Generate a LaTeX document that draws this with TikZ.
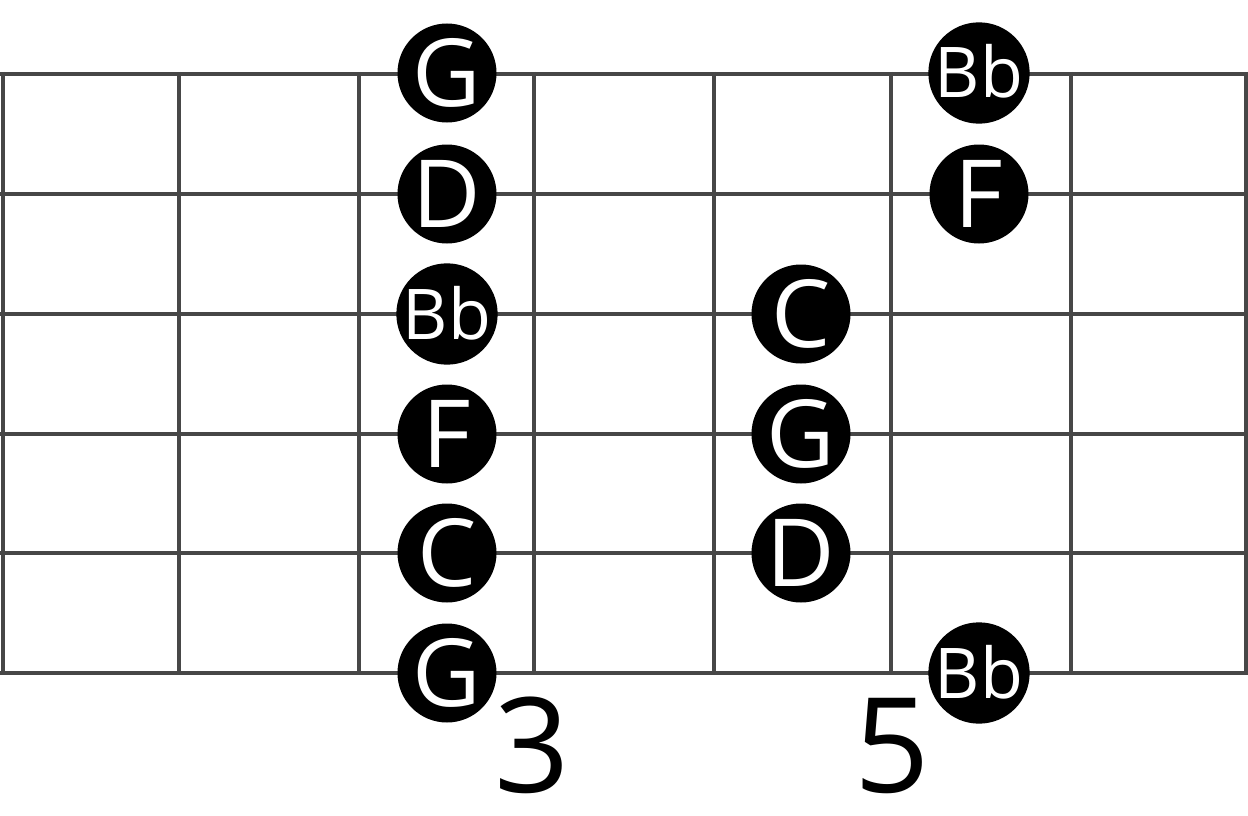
\documentclass[tikz,border=0pt]{standalone}
\usepackage{fontspec}
\setmainfont{Open Sans}
\begin{document}
\begin{tikzpicture}[x=1pt,y=-1pt,
  gridline/.style={line width=4pt,draw=black!72},
  notedot/.style={circle,fill=black,text=white,minimum size=99pt,inner sep=0pt,
    font=\fontsize{94}{94}\selectfont,text height=67pt,text depth=0pt},
  smalldot/.style={notedot,font=\fontsize{70}{70}\selectfont,text height=50pt},
  fretlabel/.style={anchor=base,inner sep=0pt,text height=94pt,text depth=0pt,
    font=\fontsize{132}{132}\selectfont}]
\useasboundingbox (0,0) rectangle (1248,816);
% strings
\foreach \y in {74,194,314,434,553,673}
  \draw[gridline] (0,\y) -- (1248,\y);
% frets
\foreach \x in {3,179,359,534,714,891,1071,1246}
  \draw[gridline] (\x,72) -- (\x,675);
% column at fret 3
\node[notedot]  (g1) at (447,73)  {G};
\node[notedot]  (d1) at (447,194) {D};
\node[smalldot] (b1) at (447,314) {Bb};
\node[notedot]  (f1) at (447,434) {F};
\node[notedot]  (c1) at (447,553) {C};
\node[notedot]  (g2) at (447,673) {G};
% column at fret 5
\node[notedot]  (c2) at (801,314) {C};
\node[notedot]  (g3) at (801,434) {G};
\node[notedot]  (d2) at (801,553) {D};
% column at fret 6
\node[smalldot] (b2) at (979,73)  {Bb};
\node[notedot]  (f2) at (979,194) {F};
\node[smalldot] (b3) at (979,673) {Bb};
% fret numbers
\node[fretlabel] (n3) at (532,792) {3};
\node[fretlabel] (n5) at (892,792) {5};
\end{tikzpicture}
\end{document}
